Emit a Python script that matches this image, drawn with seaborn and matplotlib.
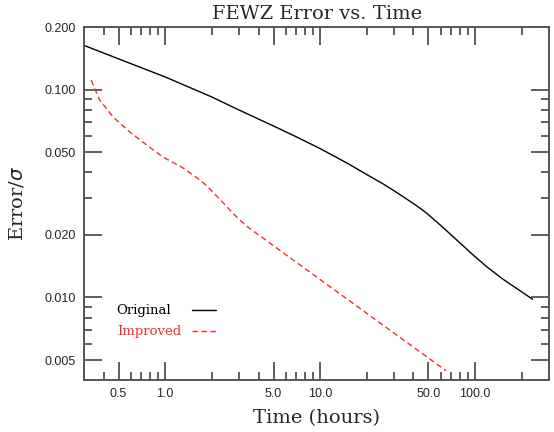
import pandas as pd
import matplotlib
matplotlib.use('Agg')
import matplotlib.pyplot as plt
import matplotlib.ticker as mticker
import seaborn as sns

# dados (tempo em horas, erro relativo)
orig_t = [0.3, 0.5, 1.0, 2.0, 3.0, 5.0, 7.0, 10.0, 15.0, 20.0, 25.3, 30.0, 40.0,
          45.9, 50.0, 60.0, 70.0, 100.0, 120.0, 150.0, 235.0]
orig_e = [0.163, 0.1405, 0.115, 0.0921, 0.0797, 0.0668, 0.0593, 0.0520, 0.0442,
          0.0390, 0.0353, 0.0326, 0.0283, 0.0263, 0.0250, 0.0222, 0.0200, 0.0157,
          0.01397, 0.0123, 0.0098]

imp_t = [0.333, 0.377, 0.42, 0.459, 0.589, 0.75, 0.965, 1.3, 1.585, 1.85, 2.24,
         2.75, 3.33, 4.2, 5.46, 9.9, 32.5, 65.0]
imp_e = [0.111, 0.0891, 0.0806, 0.074, 0.0626, 0.0545, 0.0474, 0.0420, 0.0379,
         0.0345, 0.0298, 0.0253, 0.0221, 0.0195, 0.0169, 0.01226, 0.00645, 0.00444]

x_major = [0.5, 1.0, 5.0, 10.0, 50.0, 100.0]
y_major = [0.005, 0.010, 0.020, 0.050, 0.100, 0.200]

df = pd.concat([
    pd.DataFrame({'Time': orig_t, 'Error': orig_e, 'Serie': 'Original'}),
    pd.DataFrame({'Time': imp_t, 'Error': imp_e, 'Serie': 'Improved'}),
])

sns.set_style("ticks")
plt.rcParams['font.family'] = ['Liberation Sans', 'DejaVu Sans']

fig = plt.figure(figsize=(5.54, 4.32), dpi=100)
ax = fig.add_axes([0.152, 0.12, 0.839, 0.8175])

sns.lineplot(data=df, x='Time', y='Error', hue='Serie', style='Serie',
             palette={'Original': 'black', 'Improved': '#ff2a2a'},
             dashes={'Original': '', 'Improved': (4, 2.5)},
             linewidth=1.0, sort=False, estimator=None, ax=ax, legend=True)

ax.set_xscale('log')
ax.set_yscale('log')
ax.set_xlim(0.3, 300)
ax.set_ylim(0.004, 0.2)

# ticks principais e secundarios
ax.xaxis.set_major_locator(mticker.FixedLocator(x_major))
ax.xaxis.set_major_formatter(mticker.FixedFormatter([f'{v:.1f}' for v in x_major]))
ax.xaxis.set_minor_locator(mticker.LogLocator(base=10, subs=range(1, 10), numticks=20))
ax.xaxis.set_minor_formatter(mticker.NullFormatter())
ax.yaxis.set_major_locator(mticker.FixedLocator(y_major))
ax.yaxis.set_major_formatter(mticker.FixedFormatter([f'{v:.3f}' for v in y_major]))
ax.yaxis.set_minor_locator(mticker.LogLocator(base=10, subs=range(1, 10), numticks=20))
ax.yaxis.set_minor_formatter(mticker.NullFormatter())

ax.tick_params(which='both', direction='in', top=True, right=True,
               color='#444444', width=1.2, labelsize=9, pad=6)
ax.tick_params(which='major', length=13)
ax.tick_params(which='minor', length=6)
for s in ax.spines.values():
    s.set_color('#555555')
    s.set_linewidth(1.4)
    s.set_visible(True)

serif = ['DejaVu Serif']
ax.set_title('FEWZ Error vs. Time', fontsize=14, family=serif, pad=6)
ax.set_xlabel('Time (hours)', fontsize=14, family=serif, labelpad=6)
ax.set_ylabel('Error/$\\sigma$', fontsize=14, family=serif, labelpad=13)

# legenda: textos alinhados a esquerda e linhas numa coluna a direita
handles, labels = ax.get_legend_handles_labels()
leg_txt = ax.legend(handles, labels, frameon=False, loc='center left',
                    bbox_to_anchor=(0.07, 0.167), borderpad=0, borderaxespad=0,
                    handlelength=0, handletextpad=0, labelspacing=0.6,
                    prop={'family': serif, 'size': 9.5})
for text, line in zip(leg_txt.get_texts(), leg_txt.get_lines()):
    text.set_color(line.get_color())
    line.set_visible(False)
ax.add_artist(leg_txt)

ax.legend(handles, ['', ''], frameon=False, loc='center left',
          bbox_to_anchor=(0.232, 0.167), borderpad=0, borderaxespad=0,
          handlelength=1.8, handletextpad=0, labelspacing=0.6,
          prop={'family': serif, 'size': 9.5})

fig.savefig('out.png', dpi=100)
